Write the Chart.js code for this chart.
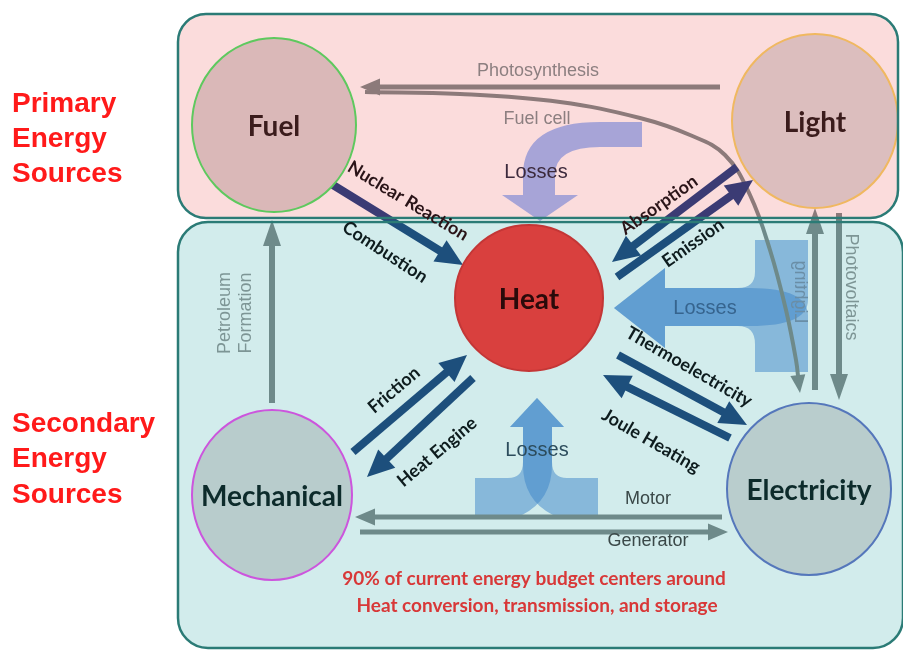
<!DOCTYPE html>
<html lang="en">
<head>
<meta charset="UTF-8">
<title>Energy conversion map</title>
<style>
  html, body { margin: 0; padding: 0; background: #ffffff; }
  #energyChart { display: block; }
</style>
</head>
<body>
<canvas id="energyChart" width="903" height="650"></canvas>
<script src="https://cdn.jsdelivr.net/npm/chart.js"></script>
<script>
// ---- nodes (energy forms) ----
var nodeNames = ['Fuel', 'Light', 'Heat', 'Mechanical', 'Electricity'];
var nodeX = [274, 815, 529, 272, 809];
var nodeY = [125, 121, 298, 495, 489];
var nodeRx = [82, 83, 74, 80, 82];
var nodeRy = [87, 87, 73, 85, 86];

// ---- conversion arrows: start point -> tip ----
var arrowNames = ['Nuclear Reaction', 'Absorption', 'Emission', 'Thermoelectricity', 'Joule Heating',
                  'Friction', 'Heat Engine', 'Photosynthesis', 'Motor', 'Generator',
                  'Petroleum Formation', 'Lighting', 'Photovoltaics'];
var arrowFromX = [333, 737, 617, 618, 730, 353, 473, 720, 722, 360, 272, 815, 839];
var arrowFromY = [185, 167, 277, 355, 438, 452, 378, 87, 517, 532, 403, 390, 213];
var arrowToX   = [463, 612, 753, 747, 603, 467, 367, 360, 355, 728, 272, 815, 839];
var arrowToY   = [265, 262, 180, 425, 375, 355, 477, 87, 517, 532, 220, 208, 400];
var arrowKind  = ['navy', 'navy', 'navy', 'navy', 'navy', 'navy', 'navy',
                  'thin', 'thin', 'thin', 'grey', 'grey', 'grey'];

// fuel cell curve (fuel -> electricity)
var curveX = [365, 460, 560, 640, 690, 725, 750, 770, 786, 796, 800];
var curveY = [92, 94, 102, 118, 135, 155, 195, 250, 310, 360, 393];

// losses outlines
var lossTop = [['M',642,122],['L',600,122],['Q',523,122,523,175],['L',523,195],['L',502,195],['L',540,221],
               ['L',578,195],['L',555,195],['L',555,175],['Q',555,147,600,147],['L',642,147]];
var lossRightA = [['M',755,240],['L',808,240],['L',808,300],['Q',808,326,750,326],['L',665,326],['L',665,348],
                  ['L',614,308],['L',665,268],['L',665,288],['L',738,288],['Q',755,288,755,272]];
var lossRightB = [['M',755,372],['L',808,372],['L',808,316],['Q',808,288,750,288],['L',665,288],['L',665,268],
                  ['L',614,308],['L',665,348],['L',665,326],['L',738,326],['Q',755,326,755,344]];
var lossBottomL = [['M',475,515],['L',475,478],['L',508,478],['Q',523,478,523,462],['L',523,427],['L',510,427],
                   ['L',537,398],['L',564,427],['L',552,427],['L',552,465],['Q',552,500,522,515]];
var lossBottomR = [['M',598,515],['L',598,478],['L',567,478],['Q',552,478,552,462],['L',552,427],['L',564,427],
                   ['L',537,398],['L',510,427],['L',523,427],['L',523,465],['Q',523,500,553,515]];

// ---- styles ----
var SPLIT_Y = 220;
var arrowStyle = {
  navy: { width: 8, head: 27, headW: 25, top: '#3b3b74', bottom: '#1d4f7c' },
  grey: { width: 6, head: 26, headW: 18, top: '#8c7a7a', bottom: '#6e8a8a' },
  thin: { width: 5, head: 20, headW: 17, top: '#8c7a7a', bottom: '#6e8a8a' },
  curve: { width: 4, head: 18, headW: 15, top: '#8c7a7a', bottom: '#6e8a8a' }
};
var nodeFill = ['#dab8b8', '#dcbebe', '#d9403e', '#b8cccc', '#b9cdcd'];
var nodeStroke = ['#5ec95e', '#f0b860', '#c43636', '#cc55dd', '#5577bb'];
var nodeText = ['#3b1c1c', '#3b1c1c', '#2a0a0a', '#0d2b2b', '#0d2b2b'];

var boldFont = '700 18px Lato';
var noteFont = '700 19px Lato';
var greyFont = '18px "Liberation Sans"';
var lossFont = '20px "Liberation Sans"';
var titleFont = 'bold 28px "Liberation Sans"';

var textItems = [
  { t: 'Primary', x: 12, y: 112, f: titleFont, c: '#ff1a1a', left: true },
  { t: 'Energy', x: 12, y: 147, f: titleFont, c: '#ff1a1a', left: true },
  { t: 'Sources', x: 12, y: 182, f: titleFont, c: '#ff1a1a', left: true },
  { t: 'Secondary', x: 12, y: 432, f: titleFont, c: '#ff1a1a', left: true },
  { t: 'Energy', x: 12, y: 467, f: titleFont, c: '#ff1a1a', left: true },
  { t: 'Sources', x: 12, y: 503, f: titleFont, c: '#ff1a1a', left: true },
  { t: 'Nuclear Reaction', x: 408, y: 201, a: 31, f: boldFont, c: '#2a1418' },
  { t: 'Combustion', x: 385, y: 252, a: 33, f: boldFont, c: '#0e1c1e' },
  { t: 'Absorption', x: 659, y: 205, a: -35, f: boldFont, c: '#2a1418' },
  { t: 'Emission', x: 693, y: 243, a: -35, f: boldFont, c: '#0e1c1e' },
  { t: 'Thermoelectricity', x: 689, y: 367, a: 30, f: boldFont, c: '#0e1c1e' },
  { t: 'Joule Heating', x: 651, y: 441, a: 30, f: boldFont, c: '#0e1c1e' },
  { t: 'Friction', x: 394, y: 390, a: -40, f: boldFont, c: '#0e1c1e' },
  { t: 'Heat Engine', x: 437, y: 452, a: -40, f: boldFont, c: '#0e1c1e' },
  { t: 'Photosynthesis', x: 538, y: 71, f: greyFont, c: '#8c7f80' },
  { t: 'Fuel cell', x: 537, y: 119, f: greyFont, c: '#8c7f80' },
  { t: 'Losses', x: 536, y: 172, f: lossFont, c: '#3c2a3c' },
  { t: 'Losses', x: 705, y: 308, f: lossFont, c: '#36648e' },
  { t: 'Losses', x: 537, y: 450, f: lossFont, c: '#2c4c5c' },
  { t: 'Motor', x: 648, y: 499, f: greyFont, c: '#3a4848' },
  { t: 'Generator', x: 648, y: 541, f: greyFont, c: '#3a4848' },
  { t: 'Petroleum', x: 225, y: 313, a: -90, f: greyFont, c: '#7d9595' },
  { t: 'Formation', x: 246, y: 313, a: -90, f: greyFont, c: '#7d9595' },
  { t: 'Lighting', x: 800, y: 292, a: 90, f: greyFont, c: '#6a8ea6', mirror: true },
  { t: 'Photovoltaics', x: 851, y: 287, a: 90, f: greyFont, c: '#7d9595' },
  { t: '90% of current energy budget centers around', x: 534, y: 579, f: noteFont, c: '#d83838' },
  { t: 'Heat conversion, transmission, and storage', x: 537, y: 606, f: noteFont, c: '#d83838' }
];

function twoTone(chart, top, bottom) {
  var ys = chart.scales && chart.scales.y;
  if (!ys || !chart.chartArea) return bottom;
  var y0 = ys.getPixelForValue(0), y1 = ys.getPixelForValue(650), ys2 = ys.getPixelForValue(SPLIT_Y);
  if (!isFinite(y0) || !isFinite(y1) || !isFinite(ys2) || y0 === y1) return bottom;
  var t = (ys2 - y0) / (y1 - y0);
  var g = chart.ctx.createLinearGradient(0, y0, 0, y1);
  g.addColorStop(0, top); g.addColorStop(t, top);
  g.addColorStop(t, bottom); g.addColorStop(1, bottom);
  return g;
}

function toPx(chart, x, y) {
  return [chart.scales.x.getPixelForValue(x), chart.scales.y.getPixelForValue(y)];
}

function tracePath(chart, ctx, cmds) {
  ctx.beginPath();
  cmds.forEach(function (c) {
    var p = toPx(chart, c[1], c[2]);
    if (c[0] === 'M') ctx.moveTo(p[0], p[1]);
    else if (c[0] === 'L') ctx.lineTo(p[0], p[1]);
    else {
      var q = toPx(chart, c[3], c[4]);
      ctx.quadraticCurveTo(p[0], p[1], q[0], q[1]);
    }
  });
  ctx.closePath();
}

function boxPath(chart, ctx, x0, y0, x1, y1, r) {
  var a = toPx(chart, x0, y0), b = toPx(chart, x1, y1);
  ctx.beginPath();
  ctx.roundRect(a[0], a[1], b[0] - a[0], b[1] - a[1], r);
}

// shorten a shaft so the line stays inside the arrow head
function shaftEnd(fx, fy, tx, ty, head) {
  var dx = tx - fx, dy = ty - fy, len = Math.hypot(dx, dy);
  return { x: tx - dx / len * head * 0.6, y: ty - dy / len * head * 0.6 };
}

var datasets = [];
arrowNames.forEach(function (name, i) {
  var st = arrowStyle[arrowKind[i]];
  datasets.push({
    type: 'line', label: name, order: 5,
    data: [{ x: arrowFromX[i], y: arrowFromY[i] },
           shaftEnd(arrowFromX[i], arrowFromY[i], arrowToX[i], arrowToY[i], st.head)],
    tip: { x: arrowToX[i], y: arrowToY[i] }, kind: arrowKind[i],
    borderColor: function (c) { return twoTone(c.chart, st.top, st.bottom); },
    borderWidth: st.width, borderCapStyle: 'butt', pointRadius: 0, tension: 0, fill: false
  });
});

var curvePts = curveX.map(function (x, i) { return { x: x, y: curveY[i] }; });
var nC = curvePts.length;
curvePts[nC - 1] = shaftEnd(curveX[nC - 2], curveY[nC - 2], curveX[nC - 1], curveY[nC - 1], arrowStyle.curve.head);
datasets.push({
  type: 'line', label: 'Fuel cell', order: 5, data: curvePts,
  tip: { x: curveX[nC - 1], y: curveY[nC - 1] }, kind: 'curve',
  borderColor: function (c) { return twoTone(c.chart, arrowStyle.curve.top, arrowStyle.curve.bottom); },
  borderWidth: arrowStyle.curve.width, pointRadius: 0, tension: 0.4, fill: false
});

datasets.push({
  type: 'scatter', label: 'Energy forms', order: 1, isNodes: true,
  data: nodeX.map(function (x, i) { return { x: x, y: nodeY[i] }; }),
  pointRadius: 0
});

var diagramPlugin = {
  id: 'diagram',
  beforeDatasetsDraw: function (chart) {
    var ctx = chart.ctx;
    ctx.save();
    boxPath(chart, ctx, 178, 14, 898, 218, 28);
    ctx.fillStyle = '#fbdcdc'; ctx.fill();
    boxPath(chart, ctx, 178, 222, 903, 648, 30);
    ctx.fillStyle = '#d2ecec'; ctx.fill();

    tracePath(chart, ctx, lossTop);
    ctx.fillStyle = 'rgba(112,126,212,0.6)'; ctx.fill();
    ctx.fillStyle = 'rgba(60,132,200,0.5)';
    [lossRightA, lossRightB, lossBottomL, lossBottomR].forEach(function (s) {
      tracePath(chart, ctx, s); ctx.fill();
    });
    ctx.restore();
  },
  afterDatasetDraw: function (chart, args) {
    var ds = chart.data.datasets[args.index];
    var ctx = chart.ctx;
    var pts = args.meta.data;
    ctx.save();
    if (ds.tip) {
      var st = arrowStyle[ds.kind];
      var tip = toPx(chart, ds.tip.x, ds.tip.y);
      var base = pts.length > 2 ? pts[pts.length - 2] : pts[0];
      var ang = Math.atan2(tip[1] - base.y, tip[0] - base.x);
      var bx = tip[0] - Math.cos(ang) * st.head, by = tip[1] - Math.sin(ang) * st.head;
      var nx = -Math.sin(ang) * st.headW / 2, ny = Math.cos(ang) * st.headW / 2;
      ctx.beginPath();
      ctx.moveTo(tip[0], tip[1]);
      ctx.lineTo(bx + nx, by + ny);
      ctx.lineTo(bx - nx, by - ny);
      ctx.closePath();
      ctx.fillStyle = twoTone(chart, st.top, st.bottom);
      ctx.fill();
    }
    if (ds.isNodes) {
      var sx = chart.scales.x, sy = chart.scales.y;
      pts.forEach(function (p, i) {
        var rx = sx.getPixelForValue(nodeRx[i]) - sx.getPixelForValue(0);
        var ry = sy.getPixelForValue(nodeRy[i]) - sy.getPixelForValue(0);
        ctx.beginPath();
        ctx.ellipse(p.x, p.y, Math.abs(rx), Math.abs(ry), 0, 0, Math.PI * 2);
        ctx.fillStyle = nodeFill[i]; ctx.fill();
        ctx.lineWidth = 2; ctx.strokeStyle = nodeStroke[i]; ctx.stroke();
        ctx.fillStyle = nodeText[i];
        ctx.font = '700 28px Lato';
        ctx.textAlign = 'center'; ctx.textBaseline = 'middle';
        ctx.fillText(nodeNames[i], p.x, p.y + 2);
      });
    }
    ctx.restore();
  },
  afterDatasetsDraw: function (chart) {
    var ctx = chart.ctx;
    ctx.save();
    ctx.lineWidth = 2.5; ctx.strokeStyle = '#2b7b76';
    boxPath(chart, ctx, 178, 14, 898, 218, 28); ctx.stroke();
    boxPath(chart, ctx, 178, 222, 903, 648, 30); ctx.stroke();

    textItems.forEach(function (it) {
      var p = toPx(chart, it.x, it.y);
      ctx.save();
      ctx.font = it.f; ctx.fillStyle = it.c;
      ctx.translate(p[0], p[1]);
      if (it.a) ctx.rotate(it.a * Math.PI / 180);
      if (it.mirror) ctx.scale(-1, 1);
      if (it.left) { ctx.textAlign = 'left'; ctx.textBaseline = 'alphabetic'; }
      else { ctx.textAlign = 'center'; ctx.textBaseline = 'middle'; }
      ctx.fillText(it.t, 0, 0);
      ctx.restore();
    });
    ctx.restore();
  }
};

var energyChart = new Chart(document.getElementById('energyChart'), {
  type: 'scatter',
  data: { datasets: datasets },
  options: {
    responsive: false,
    animation: false,
    events: [],
    layout: { padding: 0 },
    scales: {
      x: { type: 'linear', min: 0, max: 903, display: false },
      y: { type: 'linear', min: 0, max: 650, reverse: true, display: false }
    },
    plugins: { legend: { display: false }, tooltip: { enabled: false } }
  },
  plugins: [diagramPlugin]
});
</script>
</body>
</html>
